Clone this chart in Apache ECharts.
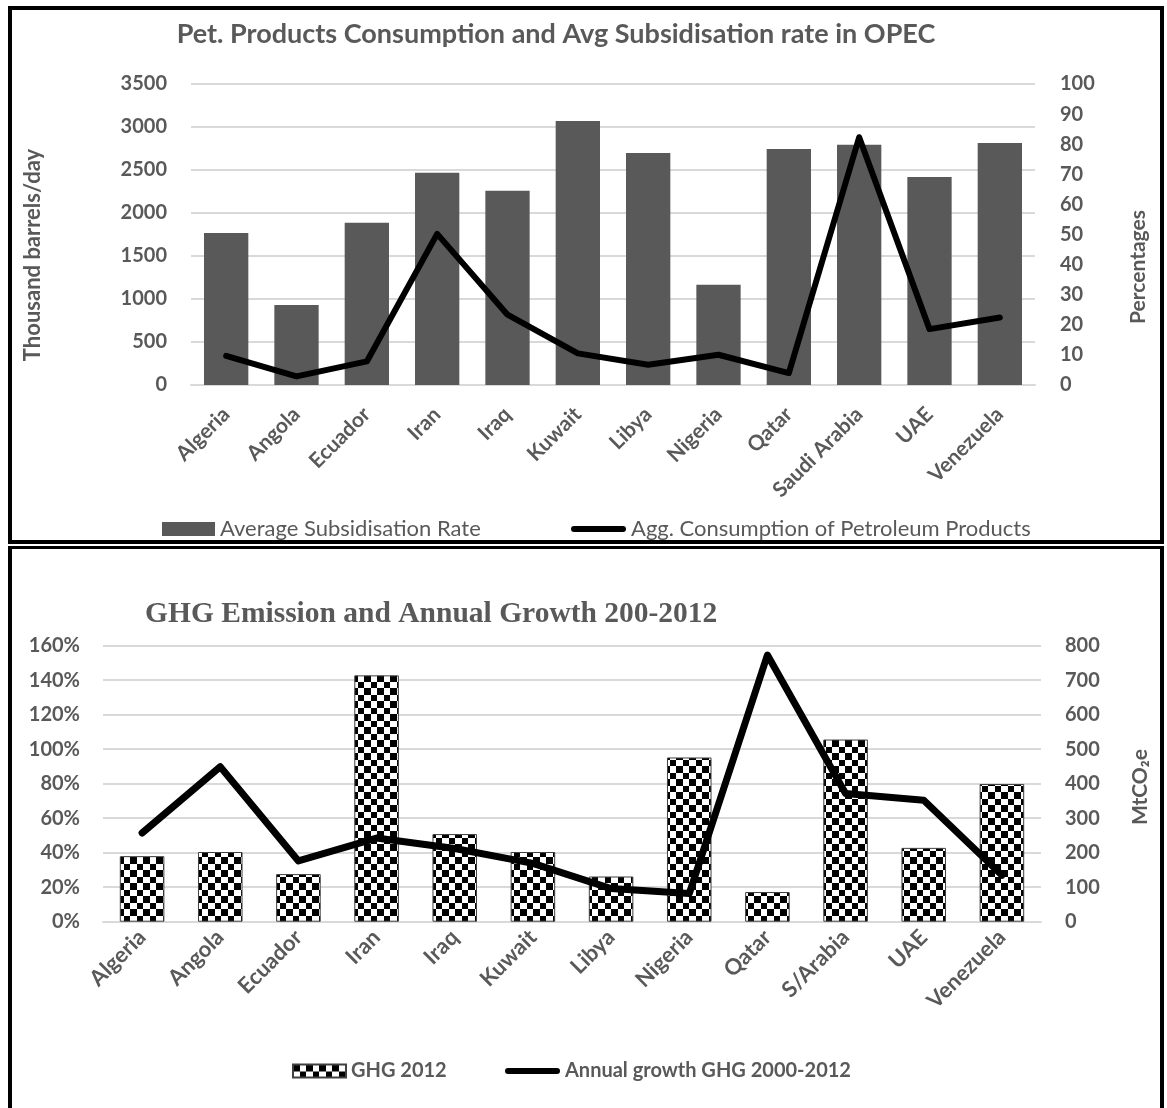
<!DOCTYPE html>
<html>
<head>
<meta charset="utf-8">
<script src="https://cdn.jsdelivr.net/npm/echarts@6/dist/echarts.min.js"></script>
<style>
  body { margin: 0; background: #fff; width: 1167px; height: 1108px; overflow: hidden; position: relative; }
  .chart { position: absolute; left: 0; width: 1167px; }
  .frame { position: absolute; box-sizing: border-box; border: 4px solid #000; pointer-events: none; }
</style>
</head>
<body>
<div id="c1" class="chart" style="top:0;height:545px"></div>
<div id="c2" class="chart" style="top:545px;height:563px"></div>
<div class="frame" style="left:8px;top:6px;width:1156px;height:538px"></div>
<div class="frame" style="left:8px;top:546px;width:1156px;height:620px;border-top-width:3px"></div>
<script>
// Petroleum products consumption vs. subsidisation rate
const countries1 = ['Algeria', 'Angola', 'Ecuador', 'Iran', 'Iraq', 'Kuwait', 'Libya', 'Nigeria', 'Qatar', 'Saudi Arabia', 'UAE', 'Venezuela'];
const subsidisationRate = [50.5, 26.6, 53.9, 70.5, 64.5, 87.7, 77.1, 33.3, 78.4, 79.8, 69.1, 80.4];
const consumption = [340, 100, 274, 1757, 817, 368, 236, 352, 139, 2881, 650, 785];

// GHG emissions and growth
const countries2 = ['Algeria', 'Angola', 'Ecuador', 'Iran', 'Iraq', 'Kuwait', 'Libya', 'Nigeria', 'Qatar', 'S/Arabia', 'UAE', 'Venezuela'];
const ghg2012 = [190, 202, 138, 714, 254, 202, 131, 476, 86, 528, 214, 399];
const ghgGrowth = [51.4, 89.8, 35.2, 48.5, 42.4, 33.8, 19.2, 16.3, 154.6, 74.3, 70.4, 26.9];

const GREY = '#595959';
const FONT = 'Lato, "Open Sans", sans-serif';
const GRID = '#d9d9d9';
// thick rounded stroke used as the legend key of the line series
const LINE_KEY = 'path://M3,0 L52,0 A3,3 0 0 1 52,6 L3,6 A3,3 0 0 1 3,0 Z';

// checkerboard fill for the emission bars
function checker() {
  const c = document.createElement('canvas');
  c.width = 13; c.height = 13;
  const g = c.getContext('2d');
  g.fillStyle = '#fff'; g.fillRect(0, 0, 13, 13);
  g.fillStyle = '#000';
  g.fillRect(0, 0, 7, 7);
  g.fillRect(7, 7, 6, 6);
  return c;
}
const checkerFill = { image: checker(), repeat: 'repeat' };

const axisLabel = (size, extra) => Object.assign({ color: GREY, fontFamily: FONT, fontWeight: 'bold', fontSize: size }, extra || {});

const chart1 = echarts.init(document.getElementById('c1'), null, { renderer: 'canvas' });
chart1.setOption({
  animation: false,
  title: {
    text: 'Pet. Products Consumption and Avg Subsidisation rate in OPEC',
    left: 556, top: 21, padding: 0, textAlign: 'center',
    textStyle: { color: GREY, fontFamily: FONT, fontWeight: 'bold', fontSize: 27 }
  },
  grid: { left: 191, right: 132, top: 84, bottom: 160 },
  legend: [
    { data: ['Average Subsidisation Rate'], left: 157, top: 513, icon: 'rect', itemWidth: 53, itemHeight: 14, itemGap: 0,
      textStyle: { color: GREY, fontFamily: FONT, fontSize: 22 } },
    { data: [{ name: 'Agg. Consumption of Petroleum Products', icon: LINE_KEY, itemStyle: { color: '#000' } }],
      left: 566, top: 513, itemWidth: 55, itemHeight: 6, itemGap: 0,
      textStyle: { color: GREY, fontFamily: FONT, fontSize: 22 } }
  ],
  xAxis: {
    type: 'category', data: countries1,
    axisLine: { lineStyle: { color: GRID, width: 2 } },
    axisTick: { show: false },
    axisLabel: axisLabel(21, { rotate: 45, margin: 26, interval: 0 })
  },
  yAxis: [
    { type: 'value', min: 0, max: 3500, interval: 500,
      axisLine: { show: false }, axisTick: { show: false },
      splitLine: { lineStyle: { color: GRID, width: 2 } },
      axisLabel: axisLabel(20, { margin: 24, formatter: v => String(v) }) },
    { type: 'value', min: 0, max: 100, interval: 10, position: 'right',
      axisLine: { show: false }, axisTick: { show: false }, splitLine: { show: false },
      axisLabel: axisLabel(20, { margin: 25 }) }
  ],
  graphic: [
    { type: 'text', x: 33, y: 255, rotation: Math.PI / 2,
      style: { text: 'Thousand barrels/day', fill: GREY, font: 'bold 22px ' + FONT, align: 'center', verticalAlign: 'middle' } },
    { type: 'text', x: 1138, y: 267, rotation: Math.PI / 2,
      style: { text: 'Percentages', fill: GREY, font: 'bold 21px ' + FONT, align: 'center', verticalAlign: 'middle' } }
  ],
  series: [
    { name: 'Average Subsidisation Rate', type: 'bar', yAxisIndex: 1, data: subsidisationRate,
      barCategoryGap: '37%', itemStyle: { color: GREY } },
    { name: 'Agg. Consumption of Petroleum Products', type: 'line', yAxisIndex: 0, data: consumption,
      symbol: 'none', z: 5, lineStyle: { color: '#000', width: 6, cap: 'round', join: 'round' }, itemStyle: { color: '#000' } }
  ]
});

const chart2 = echarts.init(document.getElementById('c2'), null, { renderer: 'canvas' });
chart2.setOption({
  animation: false,
  title: {
    text: 'GHG Emission and Annual Growth 200-2012',
    left: 145, top: 54, padding: 0,
    textStyle: { color: GREY, fontFamily: '"Liberation Serif", "DejaVu Serif", serif', fontWeight: 'bold', fontSize: 29.5 }
  },
  grid: { left: 103, right: 126, top: 100.7, bottom: 186.3 },
  legend: [
    { data: ['GHG 2012'], left: 287, top: 511, icon: 'rect', itemWidth: 53, itemHeight: 13, itemGap: 0,
      textStyle: { color: GREY, fontFamily: FONT, fontWeight: 'bold', fontSize: 20 } },
    { data: [{ name: 'Annual growth GHG 2000-2012', icon: LINE_KEY, itemStyle: { color: '#000' } }],
      left: 500, top: 511, itemWidth: 55, itemHeight: 6, itemGap: 0,
      textStyle: { color: GREY, fontFamily: FONT, fontWeight: 'bold', fontSize: 20 } }
  ],
  xAxis: {
    type: 'category', data: countries2,
    axisLine: { lineStyle: { color: GRID, width: 2 } },
    axisTick: { show: false },
    axisLabel: axisLabel(22, { rotate: 45, margin: 12, interval: 0 })
  },
  yAxis: [
    { type: 'value', min: 0, max: 160, interval: 20,
      axisLine: { show: false }, axisTick: { show: false },
      splitLine: { lineStyle: { color: GRID, width: 2 } },
      axisLabel: axisLabel(20, { margin: 23, formatter: '{value}%' }) },
    { type: 'value', min: 0, max: 800, interval: 100, position: 'right',
      axisLine: { show: false }, axisTick: { show: false }, splitLine: { show: false },
      axisLabel: axisLabel(20, { margin: 24 }) }
  ],
  graphic: [
    { type: 'text', x: 1140, y: 242, rotation: Math.PI / 2,
      style: { text: 'MtCO₂e', fill: GREY, font: 'bold 21px ' + FONT, align: 'center', verticalAlign: 'middle' } }
  ],
  series: [
    { name: 'GHG 2012', type: 'bar', yAxisIndex: 1, data: ghg2012,
      barCategoryGap: '43%', itemStyle: { color: checkerFill, borderColor: '#404040', borderWidth: 1 } },
    { name: 'Annual growth GHG 2000-2012', type: 'line', yAxisIndex: 0, data: ghgGrowth,
      symbol: 'none', z: 5, lineStyle: { color: '#000', width: 7, cap: 'round', join: 'round' }, itemStyle: { color: '#000' } }
  ]
});
</script>
</body>
</html>
